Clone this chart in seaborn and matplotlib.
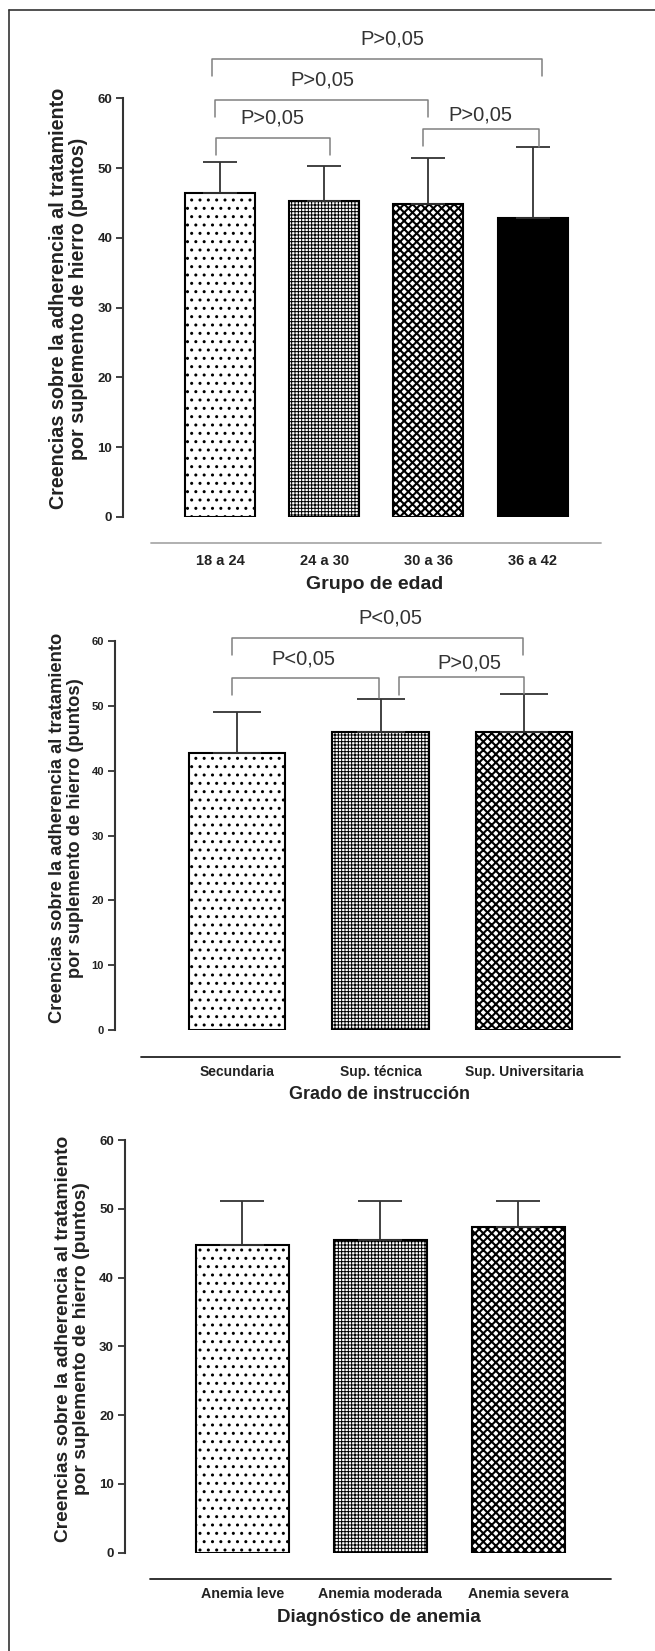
import numpy as np
import matplotlib
matplotlib.use('Agg')
import matplotlib.pyplot as plt
import seaborn as sns
from matplotlib.lines import Line2D

sns.set_theme(style='ticks')
plt.rcParams['font.family'] = ['Liberation Sans', 'DejaVu Sans']
plt.rcParams['hatch.color'] = 'black'

# Datos (media y desviacion hacia arriba)
edad_grupos = ['18 a 24', '24 a 30', '30 a 36', '36 a 42']
edad_media = [46.4, 45.3, 44.9, 42.8]
edad_de = [4.5, 5.0, 6.6, 10.3]
edad_comp = [(0, 1, 'P>0,05'), (0, 2, 'P>0,05'), (2, 3, 'P>0,05'), (0, 3, 'P>0,05')]

instr_grupos = ['Secundaria', 'Sup. técnica', 'Sup. Universitaria']
instr_media = [42.8, 45.9, 45.9]
instr_de = [6.3, 5.2, 6.0]
instr_comp = [(0, 1, 'P<0,05'), (1, 2, 'P>0,05'), (0, 2, 'P<0,05')]

anemia_grupos = ['Anemia leve', 'Anemia moderada', 'Anemia severa']
anemia_media = [44.8, 45.5, 47.4]
anemia_de = [6.4, 5.7, 3.7]

ylab = 'Creencias sobre la adherencia al tratamiento\npor suplemento de hierro (puntos)'

# Estilo de relleno de cada barra
patrones = ['..', '+++++', 'xxxx', '']
rellenos = ['white', 'white', 'white', 'black']
grosor_trama = [1.0, 0.7, 1.5, 1.0]

# Posicion de los corchetes: (dx izq, dx der, y linea, y pata izq, y pata der, dx texto, y texto)
edad_corch = [(-0.04, 0.06, 54.35, 51.9, 51.9, 0.0, 57.2),
              (-0.05, 0.0, 59.8, 57.3, 57.4, -0.02, 62.6),
              (-0.05, 0.06, 55.6, 53.2, 53.1, 0.0, 57.6),
              (-0.08, 0.09, 65.6, 63.2, 63.2, 0.15, 68.5)]
instr_corch = [(-0.03, -0.01, 54.25, 51.7, 51.2, -0.04, 57.2),
               (0.13, 0.0, 54.4, 51.7, 51.9, 0.12, 56.6),
               (-0.03, -0.01, 60.4, 57.8, 57.8, 0.07, 63.5)]


def panel(ax, grupos, media, de, xlabel, capsize, xlim, tick_fs, ytick_fs,
          xlab_fs, ylab_fs, xlab_pos, ylab_pos, linea_y, linea_x0, linea_color, tick_pad):
    n = len(grupos)
    sns.barplot(x=grupos, y=media, ax=ax, color='white', edgecolor='black',
                linewidth=1.5, width=0.67, errorbar=None, saturation=1)
    for i, p in enumerate(ax.patches):
        p.set_facecolor(rellenos[i])
        p.set_edgecolor('black')
        if patrones[i]:
            p.set_hatch(patrones[i])
            if hasattr(p, 'set_hatch_linewidth'):
                p.set_hatch_linewidth(grosor_trama[i])
    ax.errorbar(np.arange(n), media, yerr=[np.zeros(n), de], fmt='none',
                ecolor='#333333', elinewidth=1.3, capsize=capsize, capthick=1.3, zorder=3)
    ax.set_ylim(0, 60)
    ax.set_xlim(*xlim)
    ax.set_yticks(range(0, 61, 10))
    sns.despine(ax=ax, bottom=True)
    ax.spines['left'].set_color('#333333')
    ax.spines['left'].set_linewidth(1.5)
    ax.tick_params(axis='x', length=0, pad=tick_pad, labelsize=tick_fs, labelcolor='#222222')
    ax.tick_params(axis='y', length=5, width=1.3, color='#333333', pad=3,
                   labelsize=ytick_fs, labelcolor='#222222')
    for t in ax.get_xticklabels() + ax.get_yticklabels():
        t.set_fontweight('bold')
    ax.set_xlabel(xlabel, fontsize=xlab_fs, fontweight='bold', color='#222222')
    ax.xaxis.set_label_coords(*xlab_pos)
    ax.set_ylabel(ylab, fontsize=ylab_fs, fontweight='bold', color='#222222', linespacing=1.1)
    ax.yaxis.set_label_coords(*ylab_pos)
    ax.yaxis.label.set_va('center')
    ax.plot([linea_x0, 1.0], [linea_y, linea_y], transform=ax.transAxes,
            color=linea_color, lw=1.3, clip_on=False)


def corchetes(ax, comps, layout):
    for (i, j, txt), (dl, dr, y, yl, yr, dt, yt) in zip(comps, layout):
        ax.plot([i + dl, i + dl, j + dr, j + dr], [yl, y, y, yr],
                color='#808080', lw=1.1, clip_on=False, zorder=4)
        ax.text((i + j) / 2 + dt, yt, txt, ha='center', va='center',
                fontsize=14.5, color='#333333', clip_on=False)


fig = plt.figure(figsize=(6.55, 16.51), dpi=100)
ax1 = fig.add_axes([0.1882, 0.6870, 0.7301, 0.2534])
ax2 = fig.add_axes([0.1756, 0.3761, 0.7710, 0.2356])
ax3 = fig.add_axes([0.1908, 0.0595, 0.7420, 0.2500])

panel(ax1, edad_grupos, edad_media, edad_de, 'Grupo de edad', 12, (-0.928, 3.661),
      10.5, 9.5, 14, 14.2, (0.526, -0.141), (-0.115, 0.522), -0.0621, 0.0573, '#aaaaaa', 27)
corchetes(ax1, edad_comp, edad_corch)

panel(ax2, instr_grupos, instr_media, instr_de, 'Grado de instrucción', 17, (-0.847, 2.666),
      10, 8, 13, 13.2, (0.523, -0.144), (-0.0964, 0.519), -0.0686, 0.0515, '#222222', 25)
corchetes(ax2, instr_comp, instr_corch)

panel(ax3, anemia_grupos, anemia_media, anemia_de, 'Diagnóstico de anemia', 16, (-0.852, 2.672),
      10.3, 9.5, 13.5, 13.8, (0.523, -0.136), (-0.108, 0.518), -0.0645, 0.0514, '#222222', 25)

# Marco exterior (solo borde superior e izquierdo visibles)
x0, y0 = 9 / 655, 1 - 10 / 1651
fig.add_artist(Line2D([x0, x0], [0, y0], transform=fig.transFigure, color='#333333', lw=1.2))
fig.add_artist(Line2D([x0, 1], [y0, y0], transform=fig.transFigure, color='#333333', lw=1.2))

fig.savefig('out.png', dpi=100)
